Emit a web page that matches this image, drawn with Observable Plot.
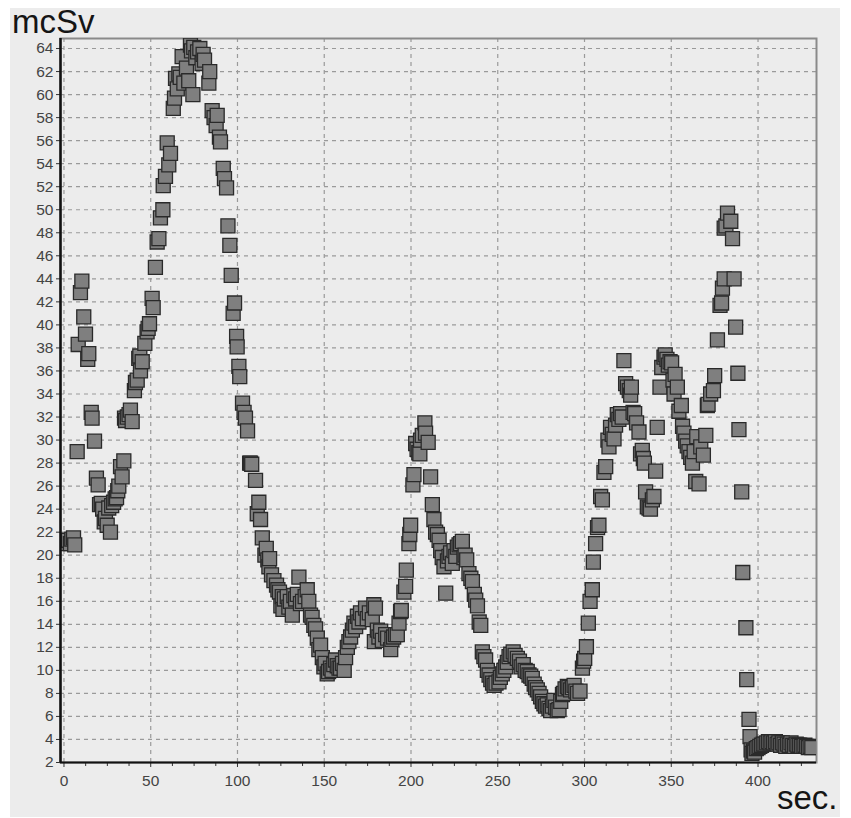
<!DOCTYPE html>
<html><head><meta charset="utf-8">
<script src="https://cdn.jsdelivr.net/npm/d3@7"></script>
<script src="https://cdn.jsdelivr.net/npm/@observablehq/plot@0.6"></script>
<style>
body{margin:0;background:#fff;}
#bg{position:absolute;left:10px;top:8px;width:830px;height:809px;background:#ececec;}
#chart{position:absolute;left:0;top:0;}
.lbl{position:absolute;font-family:"Liberation Sans",Arial,sans-serif;color:#151515;line-height:1;white-space:nowrap;}
</style></head><body>
<div id="bg"></div>
<div id="chart"></div>
<div class="lbl" id="ylab" style="left:12px;top:5px;font-size:33px;">mcSv</div>
<div class="lbl" id="xlab" style="left:777px;top:781px;font-size:33px;">sec.</div>
<script>
// readings: [seconds, mcSv]
const s000 = [[-0.5,21.1],[0.5,21.2],[1.5,21.0],[2.5,21.3],[3.7,21.0],[4.5,21.4],[5.5,21.5],[6.2,20.9],[7.6,29.0],[8.2,38.3],[9.5,42.8],[10.3,43.8],[11.4,40.7],[12.4,39.2],[13.7,37.0],[14.3,37.5],[15.7,32.4],[16.2,31.9],[17.6,29.9],[18.7,26.7],[19.7,26.1]];
const s020 = [[20.5,24.4],[21.5,24.5],[22.3,24.0],[23.2,22.9],[23.9,23.2],[24.9,22.6],[25.8,24.1],[26.8,22.0],[27.5,24.3],[28.6,24.6],[29.5,24.9],[30.3,25.0],[31.0,25.6],[31.6,26.0],[32.6,27.7],[33.5,26.8],[34.5,28.2],[34.9,31.9],[35.5,31.7],[36.5,32.0],[37.5,32.2],[38.3,32.6],[39.3,31.6],[40.6,34.3],[41.2,35.0],[42.2,35.2],[43.1,37.1],[43.7,37.3],[44.1,36.0],[45.1,36.8],[46.6,38.4],[47.9,39.4],[48.5,39.7],[49.3,40.1],[50.8,42.3],[51.4,41.5],[52.7,45.0],[53.7,47.2],[54.7,47.5],[55.6,49.3],[57.0,50.0],[57.2,52.1],[58.5,52.9],[59.5,55.8]];
const s060 = [[60.4,53.9],[61.4,54.9],[63.0,58.8],[63.7,59.7],[64.3,61.4],[65.3,60.5],[66.2,61.8],[67.0,61.5],[68.1,63.3],[69.1,61.0],[70.6,62.3],[71.9,61.2],[72.9,64.3],[73.5,63.8],[74.3,60.0],[74.8,64.1],[76.0,63.2],[77.0,63.7],[78.3,64.0],[79.6,62.7],[80.2,63.5],[81.0,63.0],[83.5,61.0],[84.0,62.0],[85.4,58.6],[86.5,58.0],[87.7,57.3],[88.3,58.2],[89.6,56.3],[90.2,55.9],[91.8,53.6],[92.5,52.7],[93.7,51.9],[94.5,48.6],[95.6,46.9],[96.4,44.3],[97.5,41.0],[98.3,41.9],[99.5,39.0],[99.8,38.1]];
const s100 = [[100.8,36.4],[101.3,35.5],[102.9,33.2],[103.8,32.4],[104.6,31.9],[105.8,30.8],[107.0,28.0],[107.5,28.0],[108.2,27.9],[110.4,26.5],[111.4,23.6],[112.3,24.6],[113.3,23.1],[114.3,21.5],[115.8,20.0],[116.6,20.6],[117.5,19.6],[118.1,19.0],[118.5,19.7],[119.6,18.3],[121.0,17.8],[122.5,17.4],[123.3,17.0],[124.2,16.8],[125.0,15.6],[125.8,16.4],[126.2,15.3],[127.0,16.2],[128.7,16.4],[129.6,15.5],[130.5,16.0],[131.6,14.8],[132.5,16.5],[133.5,16.2],[134.5,16.6],[135.4,18.1],[136.3,15.8],[137.5,16.0],[139.0,16.4],[140.2,17.0],[141.1,16.0],[142.1,14.8],[143.0,14.6],[144.0,13.9],[145.0,13.6],[146.0,12.8],[146.9,11.8],[147.9,12.2],[148.9,11.1],[149.8,10.3]];
const s150 = [[150.5,10.6],[151.7,9.7],[152.5,9.9],[153.6,10.2],[154.5,10.0],[155.5,10.5],[156.5,10.9],[157.5,10.4],[158.5,10.2],[159.4,10.2],[160.5,10.6],[161.5,10.0],[162.3,11.1],[163.3,12.0],[164.2,12.5],[165.2,12.9],[166.2,13.5],[167.1,14.1],[168.1,13.8],[169.1,14.7],[170.0,14.2],[170.9,15.0],[172.0,14.5],[173.8,15.4],[174.8,14.5],[176.0,15.0],[177.7,14.4],[178.6,15.7],[179.5,15.4],[178.9,12.5],[180.6,13.5],[181.5,12.9],[182.5,13.4],[183.5,12.6],[185.4,13.1],[186.5,12.8],[188.3,11.8],[189.0,12.7],[190.0,12.9],[191.1,13.1],[192.1,13.1],[193.1,14.1],[194.0,15.1],[194.4,15.2],[195.9,16.8],[196.9,17.3],[197.3,18.7],[198.8,21.0],[199.3,21.8],[199.8,22.6]];
const s200 = [[201.1,26.1],[201.7,27.0],[202.7,29.7],[203.5,29.2],[204.5,28.9],[205.1,28.8],[205.5,30.0],[206.5,30.4],[208.0,31.5],[208.4,30.6],[209.9,29.8],[211.3,26.8],[212.3,24.4],[213.2,23.1],[214.2,22.0],[215.2,21.8],[216.2,21.3],[217.1,20.4],[218.0,19.8],[219.0,19.0],[220.0,16.7],[221.0,19.5],[221.9,19.9],[222.8,20.2],[223.8,19.3],[224.8,20.4],[225.8,19.9],[226.7,20.7],[227.7,20.9],[228.6,21.0],[229.6,21.2],[230.5,19.8],[231.2,20.0],[232.1,19.6],[233.4,18.4],[234.5,18.0],[235.4,17.7],[236.5,16.6],[237.3,16.1],[238.3,15.6],[239.3,14.2],[240.2,13.9],[241.1,11.6],[242.0,11.2],[243.0,10.9],[244.0,10.0],[245.0,9.6],[246.0,9.2],[247.0,8.9],[247.9,8.7],[249.0,8.9]];
const s250 = [[250.7,9.0],[251.5,9.4],[252.6,9.7],[253.5,10.0],[254.6,10.3],[255.5,10.7],[256.5,11.2],[257.5,11.4],[258.9,11.6],[260.0,11.3],[261.3,11.05],[262.5,10.8],[263.5,10.3],[264.7,10.5],[265.8,10.0],[267.0,9.9],[268.0,9.6],[269.0,9.5],[269.9,9.3],[271.0,8.8],[271.8,8.5],[272.8,8.3],[273.8,8.0],[274.7,7.7],[275.7,7.3],[276.6,7.1],[277.5,6.9],[278.5,7.0],[279.5,6.7],[280.5,6.5],[281.5,6.9],[282.4,7.4],[283.3,6.8],[284.3,6.5],[285.3,6.6],[286.3,7.3],[287.3,7.9],[287.8,8.0],[288.8,8.4],[290.1,8.6],[291.0,8.5],[292.0,8.3],[293.0,8.5],[294.0,8.7],[295.0,8.2],[296.0,8.0],[297.4,8.2],[298.8,10.2],[299.5,10.8]];
const s300 = [[300.1,11.05],[301.1,12.05],[302.2,14.1],[303.2,16.0],[304.5,17.0],[305.1,19.4],[306.4,21.0],[307.5,22.4],[308.3,22.6],[309.3,25.1],[310.3,24.8],[311.2,27.2],[312.2,27.7],[313.5,30.0],[314.1,29.4],[315.0,31.1],[316.0,30.5],[317.0,30.1],[317.9,31.3],[318.9,32.2],[319.8,31.8],[320.8,32.3],[321.7,32.0],[322.7,36.9],[323.7,34.9],[324.7,34.6],[325.8,34.3],[326.6,33.9],[327.0,34.6],[328.0,32.4],[328.9,32.3],[330.0,31.5],[331.4,30.7],[332.3,28.8],[333.3,29.1],[333.9,28.4],[334.5,28.0],[335.2,25.5],[336.2,24.2],[337.2,24.1],[338.0,24.0],[339.1,24.8],[340.0,25.1],[341.0,27.3],[341.9,31.1],[343.5,34.6],[344.5,36.3],[345.8,37.2],[346.5,37.4],[347.5,37.0],[348.3,36.5],[349.3,36.8]];
const s350 = [[350.2,36.7],[351.0,35.2],[351.6,34.0],[352.2,35.7],[353.5,34.6],[354.4,32.5],[355.8,33.0],[356.5,31.2],[357.3,30.6],[358.3,29.9],[359.2,29.5],[360.2,29.0],[361.2,28.5],[362.2,28.0],[363.2,29.0],[364.1,26.4],[364.7,30.3],[366.0,26.2],[367.0,29.4],[368.5,28.7],[369.9,30.4],[370.8,33.0],[371.2,33.1],[372.7,34.0],[374.3,34.3],[375.0,35.6],[376.6,38.7],[378.1,41.7],[379.0,41.9],[379.5,43.2],[380.5,44.0],[380.5,48.4],[381.5,48.6],[382.4,49.7],[384.3,49.0],[385.3,47.5],[386.2,44.0],[387.1,39.8],[388.4,35.8],[389.0,30.9],[390.6,25.5],[391.2,18.5],[393.0,13.7],[393.5,9.2],[394.8,5.75],[395.4,4.25],[396.0,3.1],[396.5,2.8],[397.3,3.0],[398.0,2.9],[399.0,3.2]];
const s400 = [[400.0,3.3],[401.0,3.4],[402.0,3.5],[403.0,3.6],[404.0,3.6],[405.0,3.7],[406.0,3.8],[407.0,3.7],[408.0,3.8],[409.0,3.7],[410.0,3.8],[411.0,3.6],[412.0,3.7],[413.0,3.5],[414.0,3.7],[415.0,3.6],[416.0,3.4],[417.0,3.6],[418.0,3.5],[419.0,3.7],[420.0,3.5],[421.0,3.4],[422.0,3.6],[423.0,3.5],[424.0,3.5],[425.0,3.4],[426.0,3.4],[427.0,3.5],[428.0,3.4],[429.0,3.3],[430.0,3.4],[431.0,3.3]];

const xTicks = [0,50,100,150,200,250,300,350,400];
const xMinorTicks = [12.5,25,37.5,62.5,75,87.5,112.5,125,137.5,162.5,175,187.5,212.5,225,237.5,262.5,275,287.5,312.5,325,337.5,362.5,375,387.5,412.5,425];
const yTicks = [2,4,6,8,10,12,14,16,18,20,22,24,26,28,30,32,34,36,38,40,42,44,46,48,50,52,54,56,58,60,62,64];

const readings = [...s000,...s020,...s060,...s100,...s150,...s200,...s250,...s300,...s350,...s400]
  .map(([t,v]) => ({t, v}));

const tickFont = '"Liberation Sans Narrow","Liberation Sans",Arial,sans-serif';
const plot = Plot.plot({
  width: 851, height: 818,
  marginLeft: 60, marginTop: 38, marginRight: 35, marginBottom: 56,
  style: {background: "transparent", fontFamily: tickFont, fontSize: "15px", color: "#444"},
  x: {domain: [-2, 433.7], label: null},
  y: {domain: [2, 64.87], label: null},
  marks: [
    Plot.gridX(xTicks, {stroke: "#9a9a9a", strokeOpacity: 1, strokeDasharray: "4,4", strokeWidth: 1.2}),
    Plot.gridY(yTicks, {stroke: "#9a9a9a", strokeOpacity: 1, strokeDasharray: "4,4", strokeWidth: 1.2}),
    Plot.frame({stroke: "#8a8a8a", strokeWidth: 2}),
    Plot.axisX(xMinorTicks, {tickSize: 4, text: null, stroke: "#333"}),
    Plot.axisX(xTicks, {tickSize: 5, tickPadding: 7, stroke: "#333", fontSize: 15.5}),
    Plot.axisY(yTicks, {tickSize: 4, tickPadding: 3, stroke: "#333", fontSize: 15.5}),
    Plot.dot(readings, {x: "t", y: "v", symbol: "square", r: 7.9, fill: "#7f7f7f", stroke: "#2a2a2a", strokeWidth: 1.3, clip: true}),
    Plot.ruleX([-2], {stroke: "#111", strokeWidth: 2.5}),
    Plot.ruleY([2], {stroke: "#111", strokeWidth: 2})
  ]
});
document.getElementById("chart").append(plot);
</script>
</body></html>
